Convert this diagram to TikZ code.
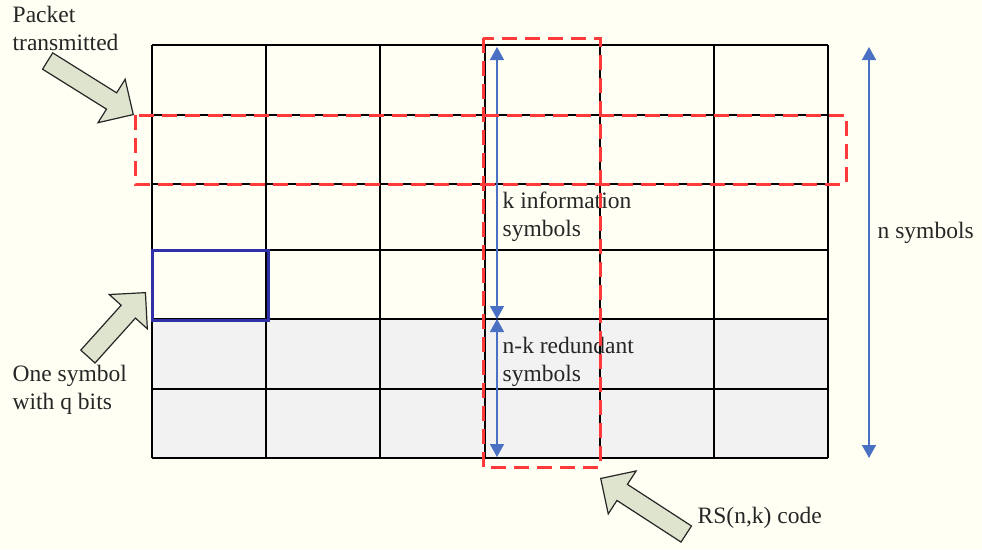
\documentclass[tikz,border=0pt]{standalone}
\usepackage{fontspec}
\setmainfont{Liberation Serif}
\usetikzlibrary{arrows.meta,shapes.arrows}

\definecolor{paper}{RGB}{255,255,244}
\definecolor{redundant}{RGB}{242,242,242}
\definecolor{codered}{RGB}{255,58,58}
\definecolor{spanblue}{RGB}{74,112,196}
\definecolor{symblue}{RGB}{48,48,168}
\definecolor{pointerfill}{RGB}{222,228,206}

\tikzset{every picture/.style={line width=1.4pt}}
\tikzset{
  lbl/.style={anchor=north west, inner sep=0pt, align=left, text=black!85,
    font=\fontsize{23.5}{28.5}\selectfont},
  pointer/.style={single arrow, draw=black!85, fill=pointerfill, line width=1.2pt,
    inner sep=9pt, single arrow head extend=16pt, anchor=tip},
  span/.style={draw=spanblue, line width=1.4pt,
    {Triangle[width=14pt,length=13pt]}-{Triangle[width=14pt,length=13pt]}},
  codebox/.style={draw=codered, line width=3pt, dash pattern=on 15pt off 8pt}
}

\begin{document}
\begin{tikzpicture}[x=1pt,y=-1pt]
    \fill[paper] (0,0) rectangle (982,549);
    \useasboundingbox (0,0) rectangle (982,549);

    % symbol grid, last two rows redundant
    \fill[redundant] (152,319) rectangle (828,458);
    \foreach \x in {152,266,380,485,600,714,828}
        \draw (\x,45) -- (\x,458);
    \foreach \y in {45,115,184,250,319,389,458}
        \draw (152,\y) -- (828,\y);
    \draw[symblue, line width=3pt] (152,250) rectangle (268,320);

    % spans
    \coordinate (ktop) at (497,47);
    \coordinate (kmid) at (497,319);
    \coordinate (kbot) at (497,457);
    \coordinate (ntop) at (869,47);
    \coordinate (nbot) at (869,458);
    \draw[span] (ktop) -- (kmid);
    \draw[span] (kmid) -- (kbot);
    \draw[span] (ntop) -- (nbot);

    \node[lbl] (kinfo) at (502,191) {k information\\symbols};
    \node[lbl] (nkred) at (502,336) {n-k redundant\\symbols};
    \node[lbl] (nsym) at (877,221) {n symbols};
    \node[lbl] (packet) at (12,5) {Packet\\transmitted};
    \node[lbl] (onesym) at (12,364) {One symbol\\with q bits};
    \node[lbl] (rscode) at (697,506) {RS(n,k) code};

    % packet row and code word column
    \draw[codebox] (135,115) rectangle (846,184);
    \draw[codebox] (483,38) rectangle (600,467);

    \node[pointer, minimum height=101pt, rotate=-32] (pktarrow) at (134,115) {};
    \node[pointer, minimum height=86pt, rotate=48] (symarrow) at (146,292) {};
    \node[pointer, minimum height=102pt, rotate=147] (rsarrow) at (600,478) {};
\end{tikzpicture}
\end{document}
